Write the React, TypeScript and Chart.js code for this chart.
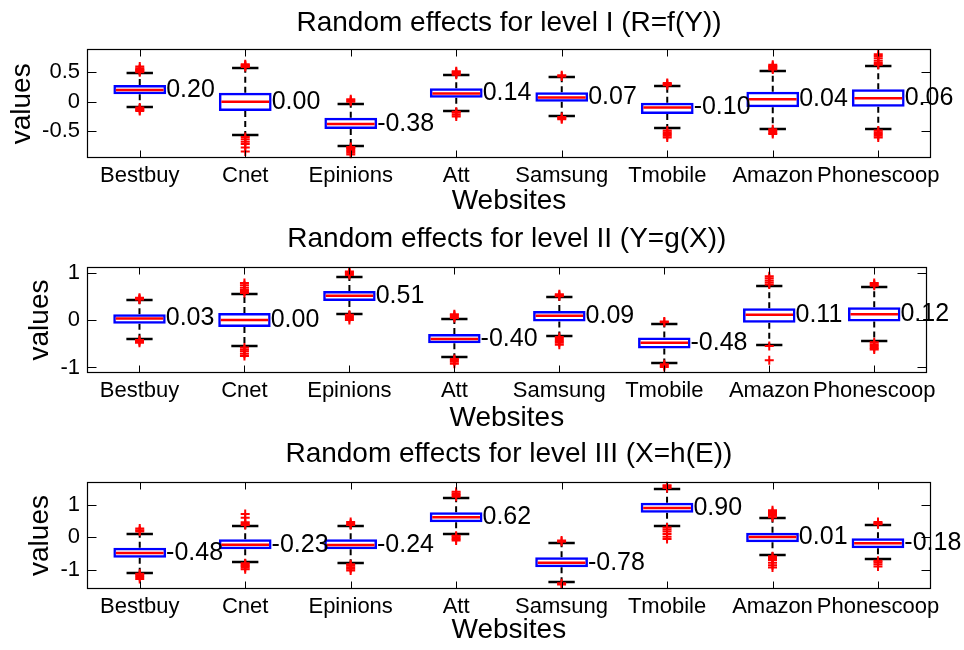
import React, { useEffect, useRef } from 'react';
import { Chart, registerables } from 'chart.js';

Chart.register(...registerables);

const FONT = '"Liberation Sans", Arial, Helvetica, sans-serif';

// ---------- data ----------
const websites = ['Bestbuy', 'Cnet', 'Epinions', 'Att', 'Samsung', 'Tmobile', 'Amazon', 'Phonescoop'];

const titles = [
  'Random effects for level I (R=f(Y))',
  'Random effects for level II (Y=g(X))',
  'Random effects for level III (X=h(E))',
];
const xAxisTitle = 'Websites';
const yAxisTitle = 'values';

// Level I
const yTicks1 = [-0.5, 0, 0.5];
const yRange1 = [-0.964, 0.893];
const medians1 = [0.2, 0.0, -0.38, 0.14, 0.07, -0.1, 0.04, 0.06];
const q1s1 = [0.126, -0.158, -0.465, 0.068, 0.0, -0.21, -0.095, -0.085];
const q3s1 = [0.284, 0.153, -0.273, 0.228, 0.16, -0.017, 0.17, 0.211];
const lows1 = [-0.085, -0.567, -0.75, -0.158, -0.24, -0.453, -0.465, -0.47];
const highs1 = [0.484, 0.569, -0.044, 0.455, 0.415, 0.267, 0.528, 0.608];
const outliers1 = [
  [0.5, 0.52, 0.54, 0.55, 0.57, 0.6, -0.1, -0.12, -0.14, -0.16],
  [0.59, 0.61, 0.62, 0.64, -0.6, -0.64, -0.68, -0.72, -0.78, -0.85],
  [0.0, 0.02, 0.04, -0.77, -0.79, -0.81, -0.84, -0.87, -0.9],
  [0.46, 0.48, 0.5, 0.52, -0.17, -0.19, -0.22, -0.25],
  [0.43, 0.45, -0.26, -0.28, -0.3],
  [0.28, 0.3, 0.32, -0.49, -0.52, -0.55, -0.58, -0.61],
  [0.55, 0.57, 0.59, 0.61, 0.63, -0.47, -0.5, -0.53, -0.55],
  [0.63, 0.66, 0.7, 0.74, 0.78, 0.81, -0.49, -0.52, -0.55, -0.58, -0.61],
];

// Level II
const yTicks2 = [-1, 0, 1];
const yRange2 = [-1.123, 1.123];
const medians2 = [0.03, 0.0, 0.51, -0.4, 0.09, -0.48, 0.11, 0.12];
const q1s2 = [-0.078, -0.15, 0.4, -0.49, -0.03, -0.6, -0.056, -0.03];
const q3s2 = [0.12, 0.15, 0.61, -0.295, 0.19, -0.37, 0.25, 0.27];
const lows2 = [-0.4, -0.547, 0.126, -0.79, -0.33, -0.9, -0.53, -0.44];
const highs2 = [0.42, 0.547, 0.9, 0.02, 0.48, -0.084, 0.72, 0.7];
const outliers2 = [
  [0.43, 0.45, 0.47, -0.42, -0.45, -0.48],
  [0.57, 0.6, 0.63, 0.68, 0.73, 0.78, -0.58, -0.62, -0.66, -0.71, -0.76],
  [0.95, 0.98, 1.0, 1.02, 0.11, 0.08, 0.04, 0.0],
  [0.04, 0.07, 0.1, 0.12, -0.82, -0.85, -0.88, -0.92],
  [0.5, 0.52, 0.54, -0.36, -0.4, -0.44, -0.48, -0.52],
  [-0.03, -0.05, -0.93, -0.96, -0.99],
  [0.75, 0.79, 0.83, 0.88, 0.92, -0.55, -0.85],
  [0.72, 0.75, 0.78, -0.47, -0.51, -0.55, -0.59, -0.62],
];

// Level III
const yTicks3 = [-1, 0, 1];
const yRange3 = [-1.6, 1.711];
const medians3 = [-0.48, -0.23, -0.24, 0.62, -0.78, 0.9, 0.01, -0.18];
const q1s3 = [-0.63, -0.37, -0.37, 0.46, -0.92, 0.757, -0.15, -0.34];
const q3s3 = [-0.32, -0.06, -0.06, 0.77, -0.615, 1.065, 0.14, -0.03];
const lows3 = [-1.09, -0.77, -0.8, 0.1, -1.38, 0.36, -0.54, -0.68];
const highs3 = [0.1, 0.36, 0.36, 1.2, -0.185, 1.48, 0.58, 0.38];
const outliers3 = [
  [0.18, 0.22, 0.27, -1.12, -1.17, -1.22, -1.28],
  [0.38, 0.42, 0.46, 0.6, 0.72, -0.8, -0.84, -0.88, -0.93, -0.98],
  [0.38, 0.42, 0.47, -0.83, -0.87, -0.92, -0.97, -1.02],
  [1.25, 1.3, 1.35, 1.4, 0.05, 0.0, -0.05, -0.1],
  [-0.1, -0.14, -1.41, -1.45],
  [1.52, 1.56, 1.6, 0.3, 0.24, 0.18, 0.1, 0.02, -0.05],
  [0.62, 0.67, 0.72, 0.78, 0.83, -0.58, -0.64, -0.7, -0.78, -0.86, -0.93],
  [0.4, 0.43, 0.47, -0.72, -0.77, -0.83, -0.9],
];

// ---------- layout (pixels) ----------
const panels = [
  { top: 0, h: 219, axTop: 49.3, axBottom: 158.3, axLeft: 87, axRight: 931, titleMid: 22.9, xlabMid: 201.6, ylabMid: 22.3 },
  { top: 219, h: 217, axTop: 47.7, axBottom: 154.3, axLeft: 87, axRight: 926.7, titleMid: 19.9, xlabMid: 198.9, ylabMid: 40.6 },
  { top: 436, h: 214, axTop: 45.7, axBottom: 153.3, axLeft: 87, axRight: 930.7, titleMid: 18, xlabMid: 193.9, ylabMid: 40.6 },
];

const TICK_SIZE = 22;
const LABEL_SIZE = 28;
const VALUE_SIZE = 25;

type PanelData = {
  title: string;
  yTicks: number[];
  yRange: number[];
  medians: number[];
  q1: number[];
  q3: number[];
  lo: number[];
  hi: number[];
  outliers: number[][];
};

const panelData: PanelData[] = [
  { title: titles[0], yTicks: yTicks1, yRange: yRange1, medians: medians1, q1: q1s1, q3: q3s1, lo: lows1, hi: highs1, outliers: outliers1 },
  { title: titles[1], yTicks: yTicks2, yRange: yRange2, medians: medians2, q1: q1s2, q3: q3s2, lo: lows2, hi: highs2, outliers: outliers2 },
  { title: titles[2], yTicks: yTicks3, yRange: yRange3, medians: medians3, q1: q1s3, q3: q3s3, lo: lows3, hi: highs3, outliers: outliers3 },
];

function BoxPanel({ d, L }: { d: PanelData; L: (typeof panels)[number] }) {
  const ref = useRef<HTMLCanvasElement>(null);

  useEffect(() => {
    if (!ref.current) return;
    const lineH = LABEL_SIZE * 1.2;

    const boxPlugin = {
      id: 'matlabBoxes',
      beforeDatasetsDraw(chart: any) {
        const { ctx, chartArea: a, scales } = chart;
        const x = scales.x;
        const y = scales.y;
        const cw = a.width / websites.length;
        ctx.save();
        ctx.strokeStyle = '#000';
        ctx.lineWidth = 2;
        ctx.setLineDash([6, 4]);
        websites.forEach((_, i) => {
          const cx = x.getPixelForValue(i);
          ctx.beginPath();
          ctx.moveTo(cx, y.getPixelForValue(d.q3[i]));
          ctx.lineTo(cx, y.getPixelForValue(d.hi[i]));
          ctx.moveTo(cx, y.getPixelForValue(d.q1[i]));
          ctx.lineTo(cx, y.getPixelForValue(d.lo[i]));
          ctx.stroke();
        });
        ctx.setLineDash([]);
        ctx.lineWidth = 2.5;
        websites.forEach((_, i) => {
          const cx = x.getPixelForValue(i);
          const half = cw * 0.125;
          ctx.beginPath();
          const yh = Math.round(y.getPixelForValue(d.hi[i]));
          const yl = Math.round(y.getPixelForValue(d.lo[i]));
          ctx.moveTo(cx - half, yh);
          ctx.lineTo(cx + half, yh);
          ctx.moveTo(cx - half, yl);
          ctx.lineTo(cx + half, yl);
          ctx.stroke();
        });
        ctx.restore();
      },
      afterDatasetsDraw(chart: any) {
        const { ctx, chartArea: a, scales } = chart;
        const x = scales.x;
        const y = scales.y;
        const cw = a.width / websites.length;
        ctx.save();
        // medians
        ctx.strokeStyle = '#ff0000';
        ctx.lineWidth = 2.5;
        websites.forEach((_, i) => {
          const cx = x.getPixelForValue(i);
          const ym = y.getPixelForValue(d.medians[i]);
          ctx.beginPath();
          ctx.moveTo(cx - cw * 0.25 + 2.5, ym);
          ctx.lineTo(cx + cw * 0.25 - 2.5, ym);
          ctx.stroke();
        });
        // frame
        ctx.strokeStyle = '#000';
        ctx.lineWidth = 1.2;
        const L0 = Math.round(a.left) + 0.5;
        const R0 = Math.round(a.right) - 0.5;
        const T0 = Math.round(a.top) + 0.5;
        const B0 = Math.round(a.bottom) - 0.5;
        ctx.strokeRect(L0, T0, R0 - L0, B0 - T0);
        // ticks
        ctx.lineWidth = 1;
        ctx.beginPath();
        d.yTicks.forEach((v) => {
          const py = Math.round(y.getPixelForValue(v)) + 0.5;
          ctx.moveTo(L0, py);
          ctx.lineTo(L0 + 9, py);
          ctx.moveTo(R0, py);
          ctx.lineTo(R0 - 9, py);
        });
        websites.forEach((_, i) => {
          const px = Math.round(x.getPixelForValue(i)) + 0.5;
          ctx.moveTo(px, B0);
          ctx.lineTo(px, B0 - 7);
          ctx.moveTo(px, T0);
          ctx.lineTo(px, T0 + 7);
        });
        ctx.stroke();
        // value labels
        ctx.fillStyle = '#000';
        ctx.font = `${VALUE_SIZE}px ${FONT}`;
        ctx.textAlign = 'left';
        ctx.textBaseline = 'middle';
        websites.forEach((_, i) => {
          const cx = x.getPixelForValue(i);
          ctx.fillText(d.medians[i].toFixed(2), cx + cw * 0.25, y.getPixelForValue(d.medians[i]));
        });
        ctx.restore();
      },
    };

    const outlierPoints: { x: string; y: number }[] = [];
    d.outliers.forEach((arr, i) => arr.forEach((v) => outlierPoints.push({ x: websites[i], y: v })));

    const chart = new Chart(ref.current, {
      type: 'bar',
      data: {
        labels: websites,
        datasets: [
          {
            type: 'scatter',
            data: outlierPoints as any,
            pointStyle: 'cross',
            pointRadius: 4.5,
            pointBorderWidth: 2,
            pointBorderColor: '#ff0000',
            pointBackgroundColor: '#ff0000',
            borderColor: '#ff0000',
            backgroundColor: '#ff0000',
          } as any,
          {
            type: 'bar',
            data: d.q1.map((q, i) => [q, d.q3[i]]) as any,
            backgroundColor: 'rgba(0,0,0,0)',
            borderColor: '#0000ff',
            borderWidth: 2.5,
            borderSkipped: false,
            barPercentage: 0.5,
            categoryPercentage: 1,
          } as any,
        ],
      },
      options: {
        responsive: false,
        animation: false,
        events: [],
        layout: {
          padding: { top: L.titleMid - lineH / 2, left: 0, right: 964 - L.axRight, bottom: 0 },
        },
        plugins: {
          legend: { display: false },
          tooltip: { enabled: false },
          title: {
            display: true,
            fullSize: false,
            text: d.title,
            color: '#000',
            font: { family: FONT, size: LABEL_SIZE, weight: 'normal' },
            padding: { top: 0, bottom: L.axTop - L.titleMid - lineH / 2 },
          },
        },
        scales: {
          x: {
            type: 'category',
            offset: true,
            grid: { display: false, drawTicks: false },
            border: { display: false },
            ticks: {
              color: '#000',
              font: { family: FONT, size: TICK_SIZE },
              padding: 4.9,
              autoSkip: false,
              maxRotation: 0,
              minRotation: 0,
            },
            title: {
              display: true,
              text: xAxisTitle,
              color: '#000',
              font: { family: FONT, size: LABEL_SIZE },
              padding: { top: 0, bottom: L.h - lineH / 2 - L.xlabMid },
            },
            afterFit: (s: any) => {
              s.height = L.h - L.axBottom;
            },
          },
          y: {
            type: 'linear',
            min: d.yRange[0],
            max: d.yRange[1],
            grid: { display: false, drawTicks: false },
            border: { display: false },
            ticks: {
              color: '#000',
              font: { family: FONT, size: TICK_SIZE },
              padding: 7,
              callback: (v: any) => String(v),
            },
            afterBuildTicks: (s: any) => {
              s.ticks = d.yTicks.map((v) => ({ value: v }));
            },
            title: {
              display: true,
              text: yAxisTitle,
              color: '#000',
              font: { family: FONT, size: LABEL_SIZE },
              padding: { top: L.ylabMid - lineH / 2, bottom: 0 },
            },
            afterFit: (s: any) => {
              s.width = L.axLeft;
            },
          },
        },
      } as any,
      plugins: [boxPlugin],
    });
    return () => chart.destroy();
  }, []);

  return (
    <canvas
      ref={ref}
      width={964}
      height={L.h}
      style={{ position: 'absolute', left: 0, top: L.top, width: 964, height: L.h, display: 'block' }}
    />
  );
}

export default function App() {
  return (
    <div style={{ position: 'absolute', left: 0, top: 0, width: 964, height: 650, background: '#fff', overflow: 'hidden' }}>
      {panelData.map((d, i) => (
        <BoxPanel key={i} d={d} L={panels[i]} />
      ))}
    </div>
  );
}
